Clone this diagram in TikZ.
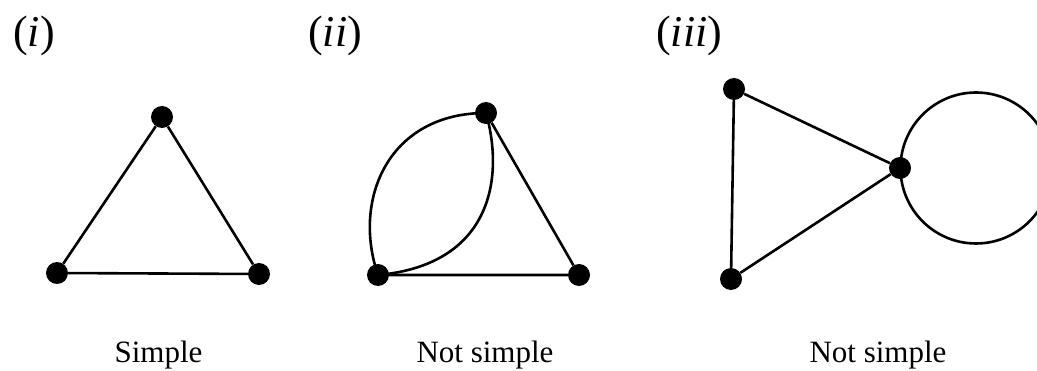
\documentclass[tikz,border=0pt]{standalone}
\usepackage{fontspec}
\setmainfont{Liberation Serif}
\begin{document}
\begin{tikzpicture}[x=1pt,y=-1pt,
  vtx/.style={circle,fill=black,inner sep=0pt,minimum size=22pt},
  edge/.style={line width=2.6pt,black},
  caption/.style={anchor=base,inner sep=0pt,font=\fontsize{31}{31}\selectfont},
  part/.style={anchor=base west,inner sep=0pt,font=\fontsize{44}{44}\selectfont}]
\useasboundingbox (0,0) rectangle (1037,371);
\clip (0,0) rectangle (1037,371);
% (i)
\node[vtx] (a1) at (162,117) {};
\node[vtx] (a2) at (57,273) {};
\node[vtx] (a3) at (259,274) {};
\draw[edge] (a1) -- (a2) -- (a3) -- (a1);
% (ii)
\node[vtx] (b1) at (486,113) {};
\node[vtx] (b2) at (378,275) {};
\node[vtx] (b3) at (579,275) {};
\draw[edge] (b1) -- (b3) -- (b2);
\draw[edge] (b2.center) .. controls (352,200) and (388,113) .. (b1.center);
\draw[edge] (b1.center) .. controls (505,180) and (490,265) .. (b2.center);
% (iii)
\node[vtx] (c1) at (734,89) {};
\node[vtx] (c2) at (731,279) {};
\node[vtx] (c3) at (900,168) {};
\draw[edge] (c1) -- (c2) -- (c3) -- (c1);
\draw[edge] ([xshift=76pt]c3.center) circle (75.5pt);
% labels
\node[part] (l1) at (13,47) {(\textit{i})};
\node[part] (l2) at (308,47) {(\textit{ii})};
\node[part] (l3) at (656,47) {(\textit{iii})};
\node[caption] (t1) at (158.5,363) {Simple};
\node[caption] (t2) at (485,363) {Not simple};
\node[caption] (t3) at (878,363) {Not simple};
\end{tikzpicture}
\end{document}
